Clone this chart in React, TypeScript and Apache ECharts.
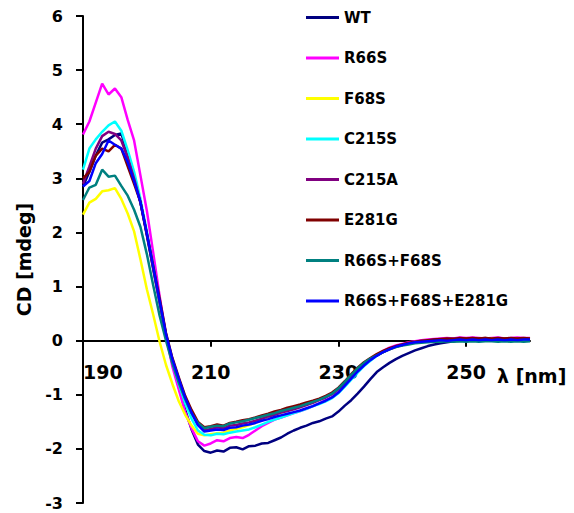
import React, { useEffect, useRef } from "react";
import * as echarts from "echarts";

const wavelengths = [
  190, 191, 192, 193, 194, 195, 196, 197, 198, 199,
  200, 201, 202, 203, 204, 205, 206, 207, 208, 209,
  210, 211, 212, 213, 214, 215, 216, 217, 218, 219,
  220, 221, 222, 223, 224, 225, 226, 227, 228, 229,
  230, 231, 232, 233, 234, 235, 236, 237, 238, 239,
  240, 241, 242, 243, 244, 245, 246, 247, 248, 249,
  250, 251, 252, 253, 254, 255, 256, 257, 258, 259, 260,
];

const xTickLabels = [190, 210, 230, 250];
const xExtent = [190, 260];
const yTickLabels = [-3, -2, -1, 0, 1, 2, 3, 4, 5, 6];

const seriesNames = [
  "WT",
  "R66S",
  "F68S",
  "C215S",
  "C215A",
  "E281G",
  "R66S+F68S",
  "R66S+F68S+E281G",
];

const seriesColors = [
  "#000080",
  "#FF00FF",
  "#FFFF00",
  "#00FFFF",
  "#800080",
  "#800000",
  "#008080",
  "#0000FF",
];

const wt = [
  2.85, 3.12, 3.42, 3.66, 3.72, 3.80, 3.83, 3.45, 3.00, 2.55,
  1.95, 1.32, 0.70, 0.08, -0.42, -0.86, -1.28, -1.64, -1.92, -2.04,
  -2.07, -2.03, -2.05, -1.98, -1.97, -2.01, -1.95, -1.94, -1.90, -1.89,
  -1.84, -1.79, -1.72, -1.66, -1.61, -1.57, -1.52, -1.49, -1.44, -1.40,
  -1.31, -1.20, -1.10, -0.98, -0.85, -0.71, -0.58, -0.49, -0.41, -0.34,
  -0.28, -0.23, -0.18, -0.14, -0.10, -0.07, -0.05, -0.03, -0.01, 0.00,
  0.01, 0.01, 0.02, 0.01, 0.02, 0.02, 0.01, 0.02, 0.02, 0.03, 0.03,
];

const r66s = [
  3.81, 4.05, 4.40, 4.75, 4.55, 4.66, 4.50, 4.08, 3.70, 3.05,
  2.40, 1.62, 0.82, 0.10, -0.48, -0.90, -1.32, -1.62, -1.86, -1.94,
  -1.90, -1.84, -1.86, -1.80, -1.78, -1.80, -1.74, -1.66, -1.58, -1.52,
  -1.46, -1.42, -1.38, -1.34, -1.30, -1.26, -1.21, -1.16, -1.10, -1.05,
  -0.95, -0.82, -0.68, -0.55, -0.44, -0.34, -0.26, -0.19, -0.13, -0.09,
  -0.06, -0.03, -0.01, 0.01, 0.02, 0.03, 0.04, 0.05, 0.04, 0.06,
  0.05, 0.06, 0.05, 0.04, 0.05, 0.06, 0.04, 0.05, 0.06, 0.05, 0.05,
];

const f68s = [
  2.33, 2.55, 2.62, 2.76, 2.78, 2.82, 2.62, 2.35, 2.02, 1.50,
  0.95, 0.48, -0.02, -0.45, -0.80, -1.12, -1.37, -1.57, -1.72, -1.75,
  -1.73, -1.71, -1.70, -1.66, -1.63, -1.60, -1.56, -1.52, -1.47, -1.42,
  -1.37, -1.33, -1.29, -1.25, -1.21, -1.17, -1.13, -1.09, -1.04, -0.98,
  -0.89, -0.77, -0.64, -0.52, -0.42, -0.34, -0.27, -0.21, -0.16, -0.12,
  -0.08, -0.05, -0.03, -0.01, 0.00, 0.01, 0.02, 0.02, 0.03, 0.02,
  0.03, 0.04, 0.03, 0.03, 0.04, 0.03, 0.04, 0.03, 0.04, 0.03, 0.03,
];

const c215s = [
  3.16, 3.55, 3.72, 3.86, 3.98, 4.05, 3.88, 3.52, 3.12, 2.62,
  2.02, 1.38, 0.74, 0.10, -0.40, -0.80, -1.16, -1.44, -1.66, -1.74,
  -1.75, -1.72, -1.73, -1.70, -1.68, -1.66, -1.64, -1.60, -1.55, -1.50,
  -1.46, -1.42, -1.38, -1.34, -1.30, -1.26, -1.21, -1.17, -1.12, -1.06,
  -0.97, -0.85, -0.72, -0.59, -0.47, -0.37, -0.28, -0.21, -0.15, -0.11,
  -0.08, -0.05, -0.03, -0.01, 0.00, 0.01, 0.01, 0.02, 0.02, 0.01,
  0.02, 0.02, 0.03, 0.02, 0.02, 0.03, 0.02, 0.02, 0.03, 0.02, 0.02,
];

const c215a = [
  2.90, 3.22, 3.55, 3.78, 3.86, 3.82, 3.70, 3.38, 3.00, 2.56,
  1.96, 1.34, 0.72, 0.10, -0.36, -0.72, -1.06, -1.32, -1.55, -1.66,
  -1.63, -1.60, -1.62, -1.57, -1.56, -1.53, -1.51, -1.48, -1.44, -1.40,
  -1.37, -1.33, -1.30, -1.27, -1.23, -1.19, -1.15, -1.10, -1.05, -0.99,
  -0.90, -0.78, -0.65, -0.53, -0.43, -0.34, -0.27, -0.21, -0.15, -0.11,
  -0.08, -0.05, -0.03, -0.01, 0.00, 0.02, 0.02, 0.03, 0.04, 0.03,
  0.04, 0.03, 0.04, 0.05, 0.03, 0.04, 0.04, 0.03, 0.04, 0.04, 0.03,
];

const e281g = [
  3.00, 3.12, 3.42, 3.55, 3.50, 3.62, 3.55, 3.22, 2.90, 2.56,
  1.98, 1.38, 0.78, 0.14, -0.32, -0.68, -1.02, -1.28, -1.50, -1.60,
  -1.58, -1.55, -1.57, -1.52, -1.50, -1.47, -1.45, -1.42, -1.38, -1.35,
  -1.31, -1.28, -1.24, -1.21, -1.18, -1.14, -1.11, -1.07, -1.02, -0.96,
  -0.87, -0.75, -0.62, -0.50, -0.40, -0.32, -0.25, -0.19, -0.14, -0.10,
  -0.07, -0.04, -0.02, 0.00, 0.01, 0.02, 0.03, 0.04, 0.03, 0.05,
  0.04, 0.05, 0.04, 0.05, 0.04, 0.05, 0.04, 0.05, 0.04, 0.05, 0.04,
];

const r66sF68s = [
  2.60, 2.83, 2.88, 3.16, 3.03, 3.05, 2.86, 2.68, 2.42, 2.10,
  1.60, 1.02, 0.46, 0.00, -0.42, -0.78, -1.08, -1.34, -1.52, -1.62,
  -1.59, -1.57, -1.58, -1.53, -1.51, -1.49, -1.46, -1.43, -1.40, -1.37,
  -1.34, -1.30, -1.27, -1.24, -1.21, -1.17, -1.13, -1.09, -1.04, -0.98,
  -0.88, -0.76, -0.63, -0.51, -0.41, -0.33, -0.27, -0.21, -0.16, -0.12,
  -0.09, -0.07, -0.05, -0.04, -0.03, -0.02, -0.02, -0.01, -0.02, -0.01,
  -0.02, -0.01, -0.02, -0.01, -0.01, -0.02, -0.01, -0.02, -0.01, -0.02, -0.01,
];

const r66sF68sE281g = [
  2.85, 2.95, 3.28, 3.45, 3.70, 3.62, 3.55, 3.30, 2.95, 2.56,
  1.98, 1.36, 0.74, 0.12, -0.34, -0.70, -1.05, -1.33, -1.56, -1.68,
  -1.66, -1.64, -1.65, -1.61, -1.60, -1.57, -1.55, -1.52, -1.48, -1.45,
  -1.41, -1.38, -1.35, -1.32, -1.29, -1.25, -1.21, -1.16, -1.11, -1.05,
  -0.96, -0.83, -0.70, -0.57, -0.46, -0.36, -0.28, -0.21, -0.16, -0.11,
  -0.08, -0.05, -0.03, -0.02, -0.01, 0.00, 0.01, 0.00, 0.01, 0.02,
  0.01, 0.02, 0.01, 0.02, 0.01, 0.02, 0.01, 0.02, 0.01, 0.02, 0.02,
];

const FONT = "DejaVu Sans";

const GRID_TOP = 16;
const GRID_BOTTOM = 503;
const Y_MIN = -3;
const Y_MAX = 6;
const ZERO_OFFSET = -((GRID_BOTTOM - GRID_TOP) * (0 - Y_MIN)) / (Y_MAX - Y_MIN);

export default function App() {
  const ref = useRef<HTMLDivElement>(null);

  useEffect(() => {
    if (!ref.current) return;
    const chart = echarts.init(ref.current, null, { renderer: "svg" });
    const dataSets = [wt, r66s, f68s, c215s, c215a, e281g, r66sF68s, r66sF68sE281g];

    const lineSeries = seriesNames.map((name, i) => ({
      type: "line",
      name,
      data: wavelengths.map((w, j) => [w, dataSets[i][j]]),
      symbol: "none",
      showSymbol: false,
      lineStyle: { width: 2.5, color: seriesColors[i] },
      itemStyle: { color: seriesColors[i] },
      z: 2 + i,
    }));

    chart.setOption({
      animation: false,
      backgroundColor: "#ffffff",
      grid: {
        left: 83,
        top: GRID_TOP,
        right: 44,
        bottom: 513 - GRID_BOTTOM,
        containLabel: false,
        outerBoundsMode: "none",
      },
      legend: {
        orient: "vertical",
        left: 306,
        top: 7.5,
        padding: 0,
        icon: "rect",
        itemWidth: 33,
        itemHeight: 3,
        itemGap: 20.5,
        data: seriesNames,
        textStyle: {
          fontFamily: FONT,
          fontWeight: "bold",
          fontSize: 15,
          color: "#000",
          lineHeight: 20,
        },
      },
      xAxis: {
        type: "value",
        min: xExtent[0],
        max: xExtent[1],
        interval: 20,
        position: "bottom",
        offset: ZERO_OFFSET,
        axisLine: { show: true, onZero: false, lineStyle: { color: "#000000", width: 2 } },
        axisTick: {
          show: true,
          inside: false,
          length: 6,
          customValues: xTickLabels,
          lineStyle: { color: "#000000", width: 2 },
        },
        axisLabel: {
          show: true,
          margin: 22,
          color: "#000",
          fontFamily: FONT,
          fontWeight: "bold",
          fontSize: 19,
          alignMinLabel: "left",
          formatter: (v: number) => (xTickLabels.indexOf(v) >= 0 ? String(v) : ""),
        },
        splitLine: { show: false },
        name: "λ [nm]",
        nameLocation: "end",
        nameGap: -33,
        nameTextStyle: {
          color: "#000",
          fontFamily: FONT,
          fontWeight: "bold",
          fontSize: 19,
          verticalAlign: "top",
          align: "left",
          padding: [26, 0, 0, 0],
        },
      },
      yAxis: {
        type: "value",
        min: Y_MIN,
        max: Y_MAX,
        interval: 1,
        axisLine: { show: true, onZero: false, lineStyle: { color: "#000", width: 2 } },
        axisTick: { show: true, length: 7, lineStyle: { color: "#000", width: 2 } },
        axisLabel: {
          margin: 20,
          color: "#000",
          fontFamily: FONT,
          fontWeight: "bold",
          fontSize: 16,
          formatter: (v: number) => (yTickLabels.indexOf(v) >= 0 ? String(v) : ""),
        },
        splitLine: { show: false },
        name: "CD [mdeg]",
        nameLocation: "middle",
        nameGap: 50,
        nameRotate: 90,
        nameTextStyle: {
          color: "#000",
          fontFamily: FONT,
          fontWeight: "bold",
          fontSize: 19,
        },
      },
      series: lineSeries,
    });

    return () => chart.dispose();
  }, []);

  return (
    <div
      ref={ref}
      style={{ position: "fixed", left: 0, top: 0, width: 574, height: 513, background: "#fff" }}
    />
  );
}
